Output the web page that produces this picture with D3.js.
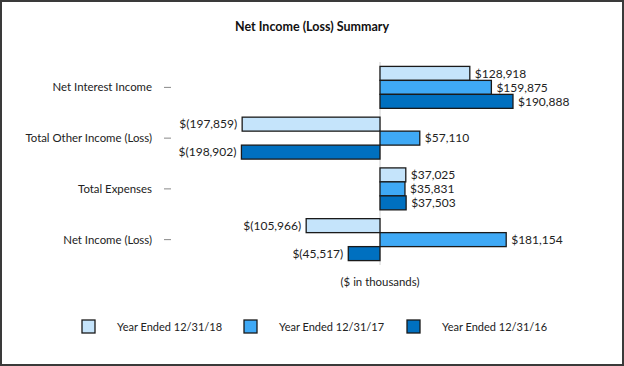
<!DOCTYPE html>
<html>
<head>
<meta charset="utf-8">
<script src="https://cdn.jsdelivr.net/npm/d3@7"></script>
<style>
  html, body { margin: 0; padding: 0; background: #fff; }
  svg { display: block; font-family: Lato, "Open Sans", sans-serif; }
</style>
</head>
<body>
<div id="chart"></div>
<script>
// Chart data.
var categories = ["Net Interest Income", "Total Other Income (Loss)", "Total Expenses", "Net Income (Loss)"];
var seriesNames = ["Year Ended 12/31/18", "Year Ended 12/31/17", "Year Ended 12/31/16"];
var values2018 = [128918, -197859, 37025, -105966];
var values2017 = [159875, 57110, 35831, 181154];
var values2016 = [190888, -198902, 37503, -45517];
var colors = ["#c5e4fb", "#3fa9f5", "#0070c0"];

var width = 624, height = 366;
var svg = d3.select("#chart").append("svg")
    .attr("width", width)
    .attr("height", height);

// Outer frame.
svg.append("rect")
    .attr("x", 1).attr("y", 1)
    .attr("width", width - 2).attr("height", height - 2)
    .attr("fill", "#fff")
    .attr("stroke", "#3a3a3a")
    .attr("stroke-width", 2);

// Title.
svg.append("text")
    .attr("x", 312).attr("y", 31)
    .attr("text-anchor", "middle")
    .attr("font-size", 12.5)
    .attr("font-weight", "bold")
    .attr("fill", "#111")
    .text("Net Income (Loss) Summary");

// Scales.
var x = d3.scaleLinear().domain([-300000, 300000]).range([171, 589]);
var y = d3.scaleBand().domain(categories).range([62, 265]);
var inner = d3.scaleBand().domain(d3.range(3))
    .range([4.4, y.bandwidth() - 4.4]);

var series = [values2018, values2017, values2016];
var rows = [];
series.forEach(function(vals, s) {
    vals.forEach(function(v, i) {
        rows.push({ cat: categories[i], s: s, v: v });
    });
});

// Category ticks and labels.
categories.forEach(function(c) {
    var cy = y(c) + y.bandwidth() / 2;
    svg.append("line")
        .attr("x1", 164).attr("x2", 171)
        .attr("y1", cy).attr("y2", cy)
        .attr("stroke", "#888").attr("stroke-width", 1);
    svg.append("text")
        .attr("x", 152).attr("y", cy)
        .attr("dy", "0.35em")
        .attr("text-anchor", "end")
        .attr("font-size", 11.4)
        .attr("fill", "#222")
        .text(c);
});

// Zero axis line.
svg.append("line")
    .attr("x1", x(0)).attr("x2", x(0))
    .attr("y1", 62).attr("y2", 265)
    .attr("stroke", "#d0d0d0").attr("stroke-width", 1);

// Bars.
svg.selectAll("rect.bar").data(rows).enter().append("rect")
    .attr("class", "bar")
    .attr("x", function(d) { return x(Math.min(0, d.v)); })
    .attr("y", function(d) { return y(d.cat) + inner(d.s); })
    .attr("width", function(d) { return Math.abs(x(d.v) - x(0)); })
    .attr("height", inner.bandwidth())
    .attr("fill", function(d) { return colors[d.s]; })
    .attr("stroke", "#1a1a1a")
    .attr("stroke-width", 1.3);

// Value labels.
var fmt = d3.format(",");
svg.selectAll("text.val").data(rows).enter().append("text")
    .attr("class", "val")
    .attr("x", function(d) { return d.v < 0 ? x(d.v) - 5 : x(d.v) + 5; })
    .attr("y", function(d) { return y(d.cat) + inner(d.s) + inner.bandwidth() / 2; })
    .attr("dy", "0.35em")
    .attr("text-anchor", function(d) { return d.v < 0 ? "end" : "start"; })
    .attr("font-size", 12)
    .attr("fill", "#222")
    .text(function(d) { return d.v < 0 ? "$(" + fmt(-d.v) + ")" : "$" + fmt(d.v); });

// Axis note.
svg.append("text")
    .attr("x", x(0)).attr("y", 282)
    .attr("dy", "0.35em")
    .attr("text-anchor", "middle")
    .attr("font-size", 11.4)
    .attr("fill", "#222")
    .text("($ in thousands)");

// Legend.
var legendX = [82, 244, 407];
seriesNames.forEach(function(name, i) {
    svg.append("rect")
        .attr("x", legendX[i]).attr("y", 320)
        .attr("width", 13).attr("height", 13)
        .attr("fill", colors[i])
        .attr("stroke", "#1a1a1a")
        .attr("stroke-width", 1.3);
    svg.append("text")
        .attr("x", legendX[i] + 35).attr("y", 327)
        .attr("dy", "0.35em")
        .attr("font-size", 11)
        .attr("fill", "#222")
        .text(name);
});
</script>
</body>
</html>
